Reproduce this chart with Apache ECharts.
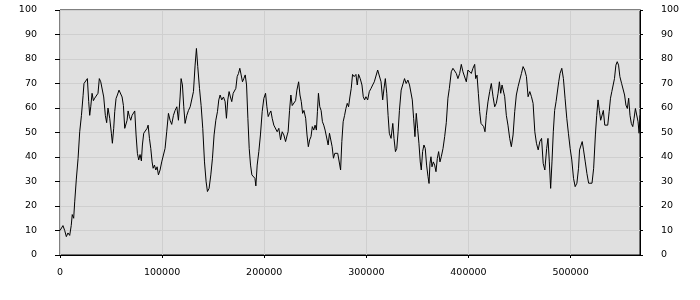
<!DOCTYPE html>
<html>
<head>
<meta charset="utf-8">
<script src="https://cdn.jsdelivr.net/npm/echarts@6/dist/echarts.min.js"></script>
<style>html,body{margin:0;padding:0;background:#fff}#c{width:700px;height:300px}</style>
</head>
<body>
<div id="c"></div>
<script>
const xs = [0,2900,4600,6200,7800,9500,11000,12000,13400,14400,16000,17700,19300,21000,22600,23500,25200,26800,28100,29100,30100,31400,32700,34000,35600,37200,38500,39900,41500,42800,44400,45700,47000,48700,50300,51300,52600,53600,54900,56200,57800,59500,60800,62100,63400,64700,65700,66700,68000,69300,70600,71900,73200,74500,75800,77100,78400,79700,80700,82000,83600,85300,86300,87600,88900,90200,91200,92500,93800,95100,96400,98000,99600,101300,102900,104500,106200,107800,109400,111100,112700,114400,116000,117600,118600,119900,121200,122500,124200,125800,127500,129100,130700,132300,133600,134900,136600,138200,139800,141500,143100,144400,146000,147700,149300,150900,152600,154200,155500,156800,158400,160100,161700,163000,164300,165600,166900,168200,169600,170900,172200,173500,174800,176100,177400,178700,180000,181400,182700,184000,185300,186600,187900,189600,190900,191800,193100,194700,196300,198000,199600,201300,202600,203900,205200,206500,207800,209400,211100,212700,214300,216000,217600,219200,220900,222500,223400,224800,226100,227400,229000,230700,232000,233700,235000,236300,237600,238900,240600,241900,243200,244500,245800,247100,248500,249800,251100,252100,253100,254400,255700,257000,258300,259600,260900,262600,263900,265200,266500,267800,269100,270400,272000,273400,274800,276000,277300,278700,280000,281300,282600,283900,285200,286500,288100,289800,291100,292400,294000,295700,297000,298300,299600,301300,302900,304600,306200,307800,309500,311100,312700,314400,316000,317300,318600,320000,321300,322500,324200,325900,327100,328500,329800,331100,332400,334100,335700,337400,339000,340700,342300,343600,345000,346300,347600,348900,350200,351500,352800,353800,355100,356400,357700,359000,360400,361400,362300,363300,364300,365600,366900,368200,369500,370800,372100,373400,375100,376700,378300,379900,381300,383200,384800,386400,388100,389700,391400,393000,394600,396300,397900,399500,401100,402800,404400,406100,407100,408400,409700,411000,412300,413600,414900,416200,417500,419100,420800,422400,424100,425700,427300,429000,430300,431600,432900,434200,435500,437100,438700,440400,442000,443700,445300,446900,448600,450200,451900,453500,455100,456800,458400,460100,461700,463300,465000,466600,468300,469900,471600,473200,474800,476600,477900,479200,480500,481800,483100,484400,485800,487100,488400,489700,491400,493000,494600,496300,497900,499600,501200,502900,504500,506200,507800,508800,510100,511400,512700,514400,516000,517700,519300,521000,522600,524300,525600,526900,528200,529500,530800,532100,533500,534800,536400,537800,539100,540400,541700,543000,544400,545700,547000,548300,550000,551600,552900,554200,555600,556900,558200,559500,560900,562200,563500,564800,566100,567100,568000];
const ys = [10,12,10,7.5,9,8,12,16.5,15,21.7,31,39.4,50.3,57,65,70,70.7,72,62.6,57,60.5,66,63,64,64.5,66,72,70.7,70,64.5,57,54,60,55.8,49.7,45.6,51.7,58.5,63.9,65.3,67.3,68,64.5,61,51.7,51,55,58.8,56.5,55,57,56.5,58.8,49,41.5,38.8,41,38.4,44.9,49.7,50.4,51.7,53,47.6,43.5,38,35.4,36.7,34.7,36,32.7,34.7,38,37.4,43.5,50.3,57.8,55,53.3,57,59,60.5,55,64.5,72,69.4,60.5,53.7,57,59,60.5,61,66.7,77.5,84.3,76.9,68,61,51.7,38,29.9,25.9,27.2,32.7,39.5,49,55,58.5,63.3,65.3,63.3,64.5,62.6,55.8,63.3,66.7,64.5,62.6,66,65.3,68,72.8,74.1,76.2,73.5,70.7,72,73.5,69.4,55.8,43.5,36.7,32.7,33,31.3,28.2,36.7,42.2,49,58.5,63.9,66,60.5,56.5,57.8,58.8,55.8,53,52.4,50.3,51.7,47,50.3,49,46.3,49,50.3,59,65.3,61,61,63,67.3,70.7,65.3,62.6,57.8,59,55.8,49,44.2,47,48.3,52.4,51,53,51,58.5,66,60.5,59,54.4,53,51,50.3,44.9,49.7,49,44.2,39.5,41.5,41.5,41.5,40.8,34.7,46.3,54.4,57,59.8,61.9,60.5,64.5,68,73.7,72.8,73.7,69.4,73.7,72,69.4,64.6,63.3,64.6,63.3,66.7,68,69.4,70.7,70,75.5,74.8,70.7,63.3,68,72,66,57,49.7,47.6,53.7,47.6,42.2,43.5,50.3,59,67.3,68,72,70,71.4,69.4,70,63.3,55.8,48.3,57.8,51.7,45.6,38,34.7,42.2,44.9,43.5,36.7,32,29.2,37.4,40.1,36,38,36.7,34,39.4,42.2,38,40.1,43.5,48.3,54,64,68,74.8,76.2,76.9,74.1,72,74.1,77.8,74.8,74.1,70.7,75.5,76.2,74.1,76.2,77.8,72,73.4,66,58.5,53.7,53.3,52.4,50.3,57,62.5,66.7,70,64.6,60.5,61.9,66,70.7,66,69.4,69.7,64.6,57,53,47.6,44.2,49,58.5,65.3,68.7,71.4,74.1,76.9,75.5,72.8,64.6,66.7,64.6,61.9,50.3,45.6,42.9,46.3,47.6,37.4,34.7,43.5,47.6,38,27.2,38,50.3,59,62.6,63.3,70.7,74.1,76.2,72,64,55.8,49.7,43.5,38.8,31.3,27.9,29.3,35.4,42.9,43.5,46.3,42.9,38,33.3,29.3,28.6,29.3,35.4,49,57,63.3,59,55,55,59,53,52.4,53,58.5,64,66.7,67.3,72,77.5,78.9,77.5,72.8,70,69.4,65.3,61.2,59.8,64,57,53.7,52.4,55.8,59.8,59,54.4,49.7,57];
const xMin = 0, xMax = 568000, xStep = 100000;
const xTicks = [0, 100000, 200000, 300000, 400000, 500000];
const yMin = 0, yMax = 100, yStep = 10;

const font = 'DejaVu Sans';
const lbl = {color:'#000', fontSize:9.5, fontFamily:font};
const chart = echarts.init(document.getElementById('c'), null, {renderer:'canvas'});
chart.setOption({
  animation:false,
  backgroundColor:'#fff',
  grid:{left:60,right:60,top:10,bottom:45,show:true,backgroundColor:'#e0e0e0',borderColor:'#000',borderWidth:1,containLabel:false},
  xAxis:{type:'value',min:xMin,max:xMax,interval:xStep,
    axisLine:{show:true,lineStyle:{color:'#000',width:1}},
    axisTick:{show:true,length:3,customValues:xTicks,lineStyle:{color:'#000'}},
    axisLabel:Object.assign({margin:13,customValues:xTicks,formatter:v=>String(v)},lbl),
    splitLine:{show:true,lineStyle:{color:'#cfcfcf',width:1}}},
  yAxis:[
    {type:'value',position:'left',offset:6,min:yMin,max:yMax,interval:yStep,
     axisLine:{show:false},
     axisTick:{show:true,length:5,lineStyle:{color:'#000'}},
     axisLabel:Object.assign({margin:17,formatter:v=>String(v)},lbl),
     splitLine:{show:true,lineStyle:{color:'#cfcfcf',width:1}}},
    {type:'value',position:'right',min:yMin,max:yMax,interval:yStep,
     axisLine:{show:true,lineStyle:{color:'#000',width:1}},
     axisTick:{show:true,length:3,lineStyle:{color:'#000'}},
     axisLabel:Object.assign({margin:21,formatter:v=>String(v)},lbl),
     splitLine:{show:false}}
  ],
  series:[{type:'line',yAxisIndex:0,showSymbol:false,symbol:'none',
    data:xs.map((x,i)=>[x,ys[i]]),
    lineStyle:{color:'#000',width:1},itemStyle:{color:'#000'}}]
});
</script>
</body>
</html>
